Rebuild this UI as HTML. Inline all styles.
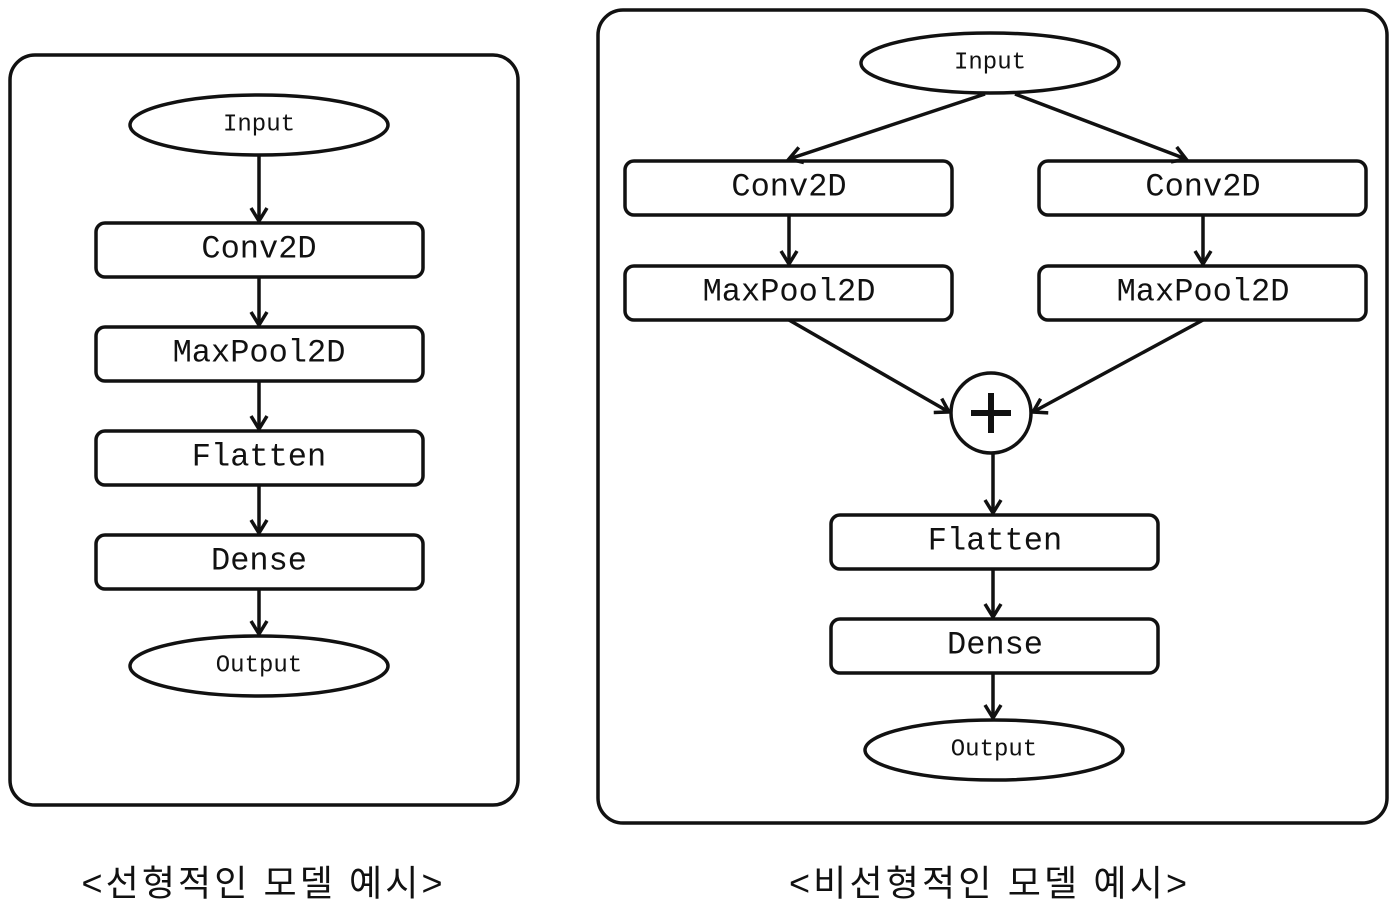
<!DOCTYPE html>
<html><head><meta charset="utf-8"><style>
body{margin:0;background:#fff}
svg{display:block}
text{font-family:"Liberation Mono","Noto Sans CJK KR",monospace;fill:#111;text-anchor:middle;dominant-baseline:central}
.b{font-size:32px}.s{font-size:24px}
.c{font-family:"Liberation Sans","Noto Sans CJK KR",sans-serif;font-size:36px;letter-spacing:4px}
</style></head><body>
<svg width="1397" height="922" viewBox="0 0 1397 922">
<defs><marker id="a" markerWidth="20" markerHeight="20" refX="15" refY="10" orient="auto" markerUnits="userSpaceOnUse"><path d="M2,2 L15,10 L2,18" fill="none" stroke="#111" stroke-width="3.5"/></marker></defs>
<g fill="none" stroke="#111" stroke-width="3.5">
<rect x="10" y="55" width="508" height="750" rx="25"/>
<rect x="598" y="10" width="789" height="813" rx="25"/>
<ellipse cx="259" cy="125" rx="129" ry="30"/>
<rect x="96" y="223" width="327" height="54" rx="9"/>
<rect x="96" y="327" width="327" height="54" rx="9"/>
<rect x="96" y="431" width="327" height="54" rx="9"/>
<rect x="96" y="535" width="327" height="54" rx="9"/>
<ellipse cx="259" cy="666" rx="129" ry="30"/>
<g marker-end="url(#a)">
<line x1="259" y1="155" x2="259" y2="221"/>
<line x1="259" y1="277" x2="259" y2="325"/>
<line x1="259" y1="381" x2="259" y2="429"/>
<line x1="259" y1="485" x2="259" y2="533"/>
<line x1="259" y1="589" x2="259" y2="634"/>
</g>
<ellipse cx="990" cy="63" rx="129" ry="30"/>
<rect x="625" y="161" width="327" height="54" rx="9"/>
<rect x="1039" y="161" width="327" height="54" rx="9"/>
<rect x="625" y="266" width="327" height="54" rx="9"/>
<rect x="1039" y="266" width="327" height="54" rx="9"/>
<circle cx="991" cy="413" r="40"/>
<rect x="831" y="515" width="327" height="54" rx="9"/>
<rect x="831" y="619" width="327" height="54" rx="9"/>
<ellipse cx="994" cy="750" rx="129" ry="30"/>
<g marker-end="url(#a)">
<line x1="985" y1="94" x2="789" y2="159"/>
<line x1="1015" y1="94" x2="1186" y2="159"/>
<line x1="789" y1="215" x2="789" y2="264"/>
<line x1="1203" y1="215" x2="1203" y2="264"/>
<line x1="789" y1="320" x2="949" y2="412"/>
<line x1="1203" y1="320" x2="1033" y2="412"/>
<line x1="993" y1="453" x2="993" y2="513"/>
<line x1="993" y1="569" x2="993" y2="617"/>
<line x1="993" y1="673" x2="993" y2="718"/>
</g>
<g stroke-width="6"><line x1="971" y1="413" x2="1011" y2="413"/><line x1="991" y1="393" x2="991" y2="433"/></g>
</g>
<text class="s" x="259" y="125">Input</text>
<text class="b" x="259" y="249">Conv2D</text>
<text class="b" x="259" y="353">MaxPool2D</text>
<text class="b" x="259" y="457">Flatten</text>
<text class="b" x="259" y="561">Dense</text>
<text class="s" x="259" y="666">Output</text>
<text class="s" x="990" y="63">Input</text>
<text class="b" x="789" y="187">Conv2D</text>
<text class="b" x="1203" y="187">Conv2D</text>
<text class="b" x="789" y="292">MaxPool2D</text>
<text class="b" x="1203" y="292">MaxPool2D</text>
<text class="b" x="995" y="541">Flatten</text>
<text class="b" x="995" y="645">Dense</text>
<text class="s" x="994" y="750">Output</text>
<text class="c" x="264" y="883" textLength="365">&lt;선형적인 모델 예시&gt;</text>
<text class="c" x="990" y="883" textLength="402">&lt;비선형적인 모델 예시&gt;</text>
</svg>
</body></html>
